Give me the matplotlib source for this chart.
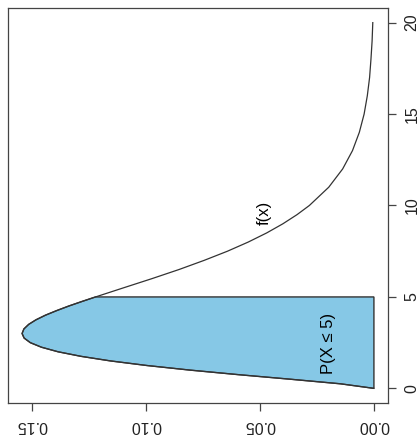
import matplotlib
matplotlib.use("Agg")
import matplotlib.pyplot as plt

# x values and density f(x)
x_vals = [0, 0.25, 0.5, 0.75, 1, 1.25, 1.5, 1.75, 2, 2.25, 2.5, 2.75, 3, 3.25, 3.5, 3.75,
          4, 4.25, 4.5, 4.75, 5, 5.5, 6, 6.5, 7, 7.5,
          8, 8.5, 9, 9.5, 10, 11, 12, 13, 14, 15, 16, 17, 18, 19, 20]
f_vals = [0.0, 0.0147, 0.0366, 0.0594, 0.0807, 0.0995, 0.1154, 0.1283, 0.1384, 0.1457,
          0.1506, 0.1533, 0.1542, 0.1534, 0.1513, 0.1481,
          0.1440, 0.1391, 0.1338, 0.1280, 0.1220, 0.1097, 0.0973, 0.0854, 0.0744, 0.0642,
          0.0551, 0.0470, 0.0399, 0.0337, 0.0283, 0.0198, 0.0137, 0.0094, 0.0064, 0.0043,
          0.0029, 0.0019, 0.0013, 0.0008, 0.0005]
shade_upper = 5
x_ticks = [0, 5, 10, 15, 20]
x_tick_labels = ["0", "5", "10", "15", "20"]
y_ticks = [0.00, 0.05, 0.10, 0.15]
y_tick_labels = ["0.00", "0.05", "0.10", "0.15"]

plt.rcParams['font.family'] = ['Liberation Sans', 'DejaVu Sans']

fig = plt.figure(figsize=(4.19, 4.36), dpi=100)
W, H = 419, 436
l, r, t, b = 8, 388, 8, 403
ax = fig.add_axes([l / W, 1 - b / H, (r - l) / W, (b - t) / H])

ymax = max(f_vals)
ax.set_xlim(ymax * 1.04, -ymax * 0.04)
ax.set_ylim(-0.8, 20.8)

# shaded polygon
sx = [x for x in x_vals if x <= shade_upper]
sf = [f for x, f in zip(x_vals, f_vals) if x <= shade_upper]
poly_d = [0] + sf + [0]
poly_x = [0] + sx + [shade_upper]
ax.fill(poly_d, poly_x, facecolor="#86c8e6", edgecolor="#333333", linewidth=1.0)

ax.plot(f_vals, x_vals, color="#333333", linewidth=0.9)

ax.text(0.048, 9.6, "f(x)", rotation=90, ha="center", va="center", fontsize=12)
ax.text(0.0197, 2.45, "P(X \u2264 5)", rotation=90, ha="center", va="center", fontsize=12)

ax.yaxis.tick_right()
ax.set_yticks(x_ticks)
ax.set_yticklabels(x_tick_labels, rotation=90, va="center", ha="left")
ax.set_xticks(y_ticks)
ax.set_xticklabels(y_tick_labels, rotation=180, ha="center", va="top")
ax.tick_params(axis="both", direction="out", length=6, width=0.9, color="#444444",
               labelsize=11.5, labelcolor="#222222")
ax.tick_params(axis="y", pad=6)
ax.tick_params(axis="x", pad=5)
for s in ax.spines.values():
    s.set_color("#444444")
    s.set_linewidth(0.9)

fig.savefig("out.png", dpi=100)
